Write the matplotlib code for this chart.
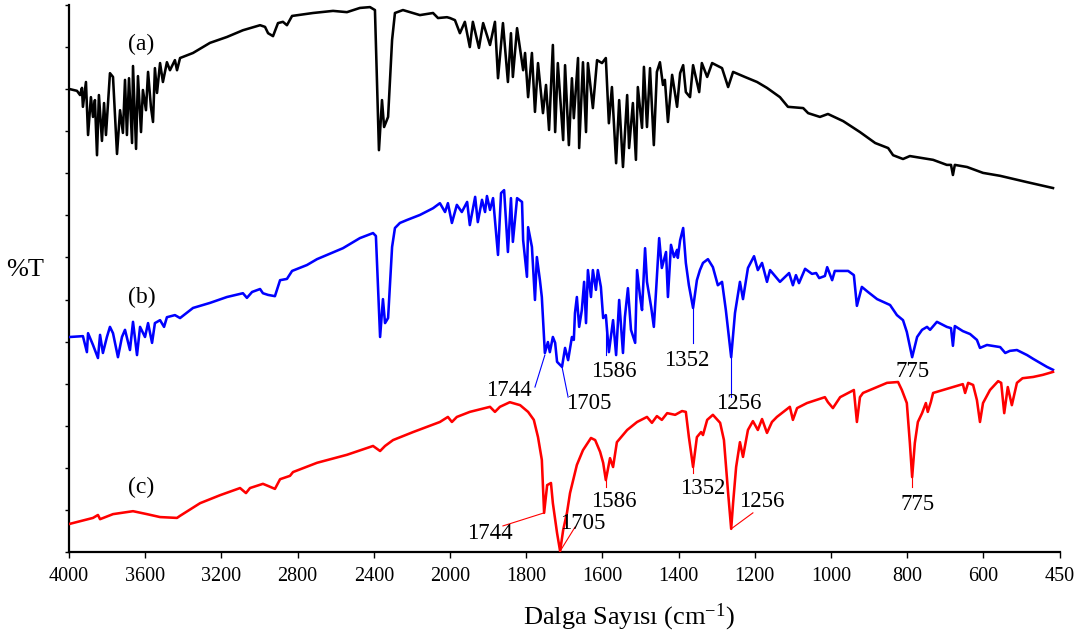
import numpy as np
import matplotlib
matplotlib.use("Agg")
import matplotlib.pyplot as plt
from matplotlib.ticker import FixedLocator, FixedFormatter, NullLocator

plt.rcParams['font.family'] = ['Liberation Serif', 'DejaVu Serif']
plt.rcParams['mathtext.fontset'] = 'custom'
plt.rcParams['mathtext.rm'] = 'Liberation Serif'
plt.rcParams['mathtext.it'] = 'Liberation Serif:italic'
plt.rcParams['mathtext.default'] = 'rm'

# ---------------- data ----------------
x_ticks = [4000, 3600, 3200, 2800, 2400, 2000, 1800, 1600, 1400, 1200, 1000, 800, 600, 450]
x_tick_labels = [str(v) for v in x_ticks]
y_ticks = list(range(0, 14))

# (a) black spectrum: (wavenumber, %T offset units)
spec_a = [
    (3995, 11.00), (3958, 10.96), (3942, 10.86), (3932, 11.03), (3927, 10.58), (3911, 11.17),
    (3900, 9.91), (3885, 10.81), (3874, 10.34), (3864, 10.74), (3853, 9.43), (3843, 10.86),
    (3827, 9.77), (3816, 10.67), (3806, 9.91), (3785, 11.38), (3769, 11.29), (3759, 10.43),
    (3748, 9.46), (3732, 10.50), (3717, 9.96), (3706, 11.22), (3696, 9.91), (3685, 11.26),
    (3669, 9.72), (3664, 11.55), (3648, 9.58), (3638, 11.31), (3622, 9.98), (3612, 10.98),
    (3596, 10.50), (3585, 11.41), (3570, 10.58), (3559, 10.22), (3549, 11.50), (3538, 10.91),
    (3522, 11.62), (3507, 11.17), (3486, 11.64), (3470, 11.45), (3444, 11.69), (3433, 11.45),
    (3417, 11.74), (3349, 11.86), (3260, 12.10), (3171, 12.24), (3087, 12.40), (2997, 12.52),
    (2971, 12.48), (2955, 12.33), (2929, 12.26), (2903, 12.57), (2877, 12.60), (2856, 12.52),
    (2829, 12.74), (2719, 12.81), (2614, 12.86), (2541, 12.83), (2473, 12.93), (2420, 12.95),
    (2394, 12.88), (2373, 9.55), (2357, 10.74), (2346, 10.10), (2325, 10.34), (2304, 12.17),
    (2289, 12.81), (2247, 12.88), (2158, 12.76), (2089, 12.81), (2063, 12.69), (2016, 12.71),
    (2000, 12.69), (1987, 12.64), (1974, 12.33), (1961, 12.60), (1948, 12.00), (1940, 12.60),
    (1924, 11.98), (1913, 12.57), (1895, 12.05), (1882, 12.60), (1874, 11.26), (1861, 12.57),
    (1848, 11.17), (1840, 12.33), (1835, 11.29), (1824, 12.45), (1808, 11.45), (1803, 11.86),
    (1795, 10.81), (1785, 11.86), (1777, 10.46), (1769, 11.62), (1756, 10.43), (1748, 11.10),
    (1740, 10.03), (1730, 12.05), (1724, 9.98), (1717, 11.62), (1703, 9.79), (1698, 11.57),
    (1688, 9.67), (1680, 11.26), (1675, 10.31), (1664, 11.74), (1661, 9.60), (1651, 11.64),
    (1643, 9.98), (1638, 11.62), (1625, 10.55), (1614, 11.69), (1601, 11.62), (1591, 11.74),
    (1583, 10.19), (1575, 11.05), (1564, 9.24), (1556, 10.74), (1546, 9.15), (1535, 10.86),
    (1530, 9.60), (1520, 10.67), (1512, 9.32), (1507, 11.05), (1496, 10.08), (1491, 11.53),
    (1483, 10.10), (1475, 11.50), (1465, 9.67), (1457, 11.41), (1449, 11.64), (1441, 11.10),
    (1436, 11.22), (1428, 10.22), (1417, 11.34), (1404, 10.58), (1396, 11.38), (1388, 11.57),
    (1381, 10.93), (1370, 10.81), (1362, 11.57), (1346, 10.93), (1339, 11.62), (1325, 11.29),
    (1312, 11.62), (1286, 11.50), (1270, 11.05), (1257, 11.41), (1226, 11.29), (1194, 11.17),
    (1168, 11.03), (1134, 10.81), (1113, 10.58), (1073, 10.55), (1060, 10.43), (1029, 10.34),
    (1008, 10.41), (968, 10.24), (924, 9.98), (884, 9.72), (850, 9.60), (837, 9.43),
    (811, 9.34), (793, 9.41), (732, 9.32), (696, 9.20), (685, 9.20), (680, 8.96),
    (675, 9.20), (643, 9.15), (601, 9.01), (567, 8.94), (514, 8.79), (463, 8.65),
]

# (b) blue spectrum
spec_b = [
    (3995, 5.11), (3927, 5.13), (3906, 4.75), (3900, 5.20), (3874, 4.92), (3848, 4.61),
    (3837, 5.16), (3822, 4.73), (3801, 5.11), (3785, 5.35), (3769, 5.20), (3743, 4.63),
    (3722, 5.11), (3706, 5.28), (3680, 4.80), (3664, 5.47), (3643, 4.68), (3627, 5.35),
    (3601, 5.11), (3585, 5.44), (3564, 4.97), (3549, 5.44), (3522, 5.51), (3501, 5.35),
    (3486, 5.58), (3444, 5.63), (3417, 5.56), (3349, 5.80), (3260, 5.92), (3171, 6.06),
    (3087, 6.15), (3066, 6.04), (3039, 6.18), (2997, 6.25), (2982, 6.15), (2955, 6.11),
    (2919, 6.08), (2892, 6.46), (2856, 6.49), (2829, 6.68), (2751, 6.82), (2698, 6.96),
    (2562, 7.22), (2473, 7.46), (2404, 7.58), (2389, 7.51), (2367, 5.11), (2352, 6.01),
    (2341, 5.44), (2325, 5.56), (2304, 7.25), (2289, 7.70), (2263, 7.82), (2226, 7.89),
    (2158, 8.01), (2089, 8.17), (2053, 8.29), (2026, 8.08), (2011, 8.29), (1995, 7.82),
    (1982, 8.25), (1969, 8.08), (1955, 8.32), (1948, 7.77), (1934, 8.44), (1927, 7.84),
    (1916, 8.37), (1908, 8.08), (1903, 8.46), (1895, 8.13), (1887, 8.41), (1874, 7.06),
    (1866, 8.53), (1858, 8.60), (1848, 7.13), (1840, 8.41), (1835, 7.37), (1824, 8.41),
    (1811, 8.32), (1808, 7.41), (1798, 6.54), (1795, 7.72), (1785, 7.25), (1777, 5.99),
    (1772, 7.01), (1764, 6.46), (1759, 6.06), (1751, 4.73), (1743, 4.99), (1738, 4.75),
    (1730, 5.11), (1724, 4.97), (1719, 4.52), (1706, 4.40), (1698, 4.85), (1690, 4.56),
    (1680, 5.11), (1675, 5.04), (1672, 5.68), (1667, 6.06), (1661, 5.35), (1654, 5.75),
    (1648, 6.42), (1643, 5.44), (1638, 6.70), (1630, 6.06), (1625, 6.70), (1617, 6.23),
    (1612, 6.70), (1604, 6.30), (1598, 5.56), (1591, 5.63), (1583, 4.75), (1572, 5.51),
    (1564, 4.68), (1556, 5.99), (1546, 4.73), (1541, 5.58), (1533, 6.27), (1525, 5.28),
    (1514, 4.97), (1509, 6.70), (1501, 6.06), (1496, 5.75), (1488, 7.22), (1483, 6.42),
    (1472, 5.82), (1465, 5.35), (1459, 6.23), (1451, 7.46), (1444, 6.75), (1433, 7.13),
    (1428, 6.06), (1420, 7.30), (1412, 7.01), (1404, 7.18), (1402, 6.99), (1396, 7.41),
    (1388, 7.70), (1381, 6.87), (1373, 6.34), (1362, 5.80), (1352, 6.46), (1344, 6.70),
    (1336, 6.87), (1323, 6.96), (1310, 6.77), (1297, 6.34), (1286, 6.42), (1276, 5.75),
    (1262, 4.63), (1252, 5.68), (1239, 6.42), (1231, 6.01), (1218, 6.75), (1202, 7.03),
    (1192, 6.70), (1181, 6.87), (1168, 6.42), (1160, 6.70), (1134, 6.42), (1110, 6.63),
    (1100, 6.34), (1092, 6.58), (1084, 6.39), (1068, 6.73), (1050, 6.61), (1039, 6.63),
    (1031, 6.51), (1016, 6.56), (1010, 6.77), (997, 6.46), (990, 6.68), (955, 6.68),
    (940, 6.58), (932, 5.85), (919, 6.30), (903, 6.18), (879, 6.01), (845, 5.87),
    (827, 5.63), (811, 5.51), (801, 5.23), (787, 4.63), (774, 5.11), (761, 5.28),
    (748, 5.35), (740, 5.28), (722, 5.47), (696, 5.35), (685, 5.32), (680, 4.90),
    (675, 5.37), (654, 5.25), (635, 5.18), (617, 5.04), (609, 4.85), (593, 4.92),
    (567, 4.87), (557, 4.73), (548, 4.78), (534, 4.80), (514, 4.68), (502, 4.59),
    (475, 4.40), (463, 4.33),
]

# (c) red spectrum
spec_c = [
    (3995, 0.67), (3874, 0.81), (3848, 0.88), (3837, 0.78), (3769, 0.90), (3664, 0.97),
    (3591, 0.90), (3522, 0.83), (3433, 0.81), (3417, 0.86), (3312, 1.16), (3207, 1.35),
    (3102, 1.52), (3071, 1.40), (3050, 1.52), (2982, 1.62), (2955, 1.57), (2919, 1.50),
    (2892, 1.73), (2840, 1.81), (2824, 1.90), (2698, 2.12), (2541, 2.31), (2404, 2.52),
    (2367, 2.40), (2341, 2.52), (2299, 2.66), (2194, 2.85), (2053, 3.09), (2011, 3.21),
    (1995, 3.09), (1982, 3.21), (1948, 3.33), (1895, 3.45), (1882, 3.33), (1869, 3.45),
    (1843, 3.56), (1816, 3.49), (1795, 3.33), (1780, 3.14), (1769, 2.73), (1759, 2.19),
    (1753, 0.93), (1745, 1.59), (1735, 1.64), (1730, 1.16), (1719, 0.45), (1711, 0.02),
    (1703, 0.52), (1693, 0.93), (1685, 1.40), (1667, 2.07), (1651, 2.42), (1630, 2.71),
    (1619, 2.66), (1606, 2.38), (1598, 2.12), (1591, 1.71), (1580, 2.23), (1572, 2.02),
    (1562, 2.61), (1535, 2.90), (1509, 3.09), (1483, 3.21), (1470, 3.07), (1457, 3.23),
    (1444, 3.14), (1430, 3.30), (1409, 3.26), (1391, 3.35), (1381, 3.33), (1373, 2.73),
    (1362, 2.02), (1352, 2.73), (1341, 2.85), (1336, 2.78), (1325, 3.14), (1310, 3.26),
    (1291, 3.07), (1281, 2.66), (1270, 1.40), (1262, 0.55), (1257, 1.16), (1249, 2.02),
    (1239, 2.61), (1231, 2.26), (1218, 2.90), (1205, 3.11), (1192, 2.90), (1181, 3.16),
    (1168, 2.83), (1155, 3.09), (1142, 3.21), (1108, 3.45), (1100, 3.14), (1089, 3.42),
    (1063, 3.54), (1029, 3.64), (1016, 3.68), (1008, 3.56), (995, 3.42), (976, 3.68),
    (940, 3.85), (932, 3.09), (924, 3.68), (916, 3.78), (879, 3.92), (853, 4.02),
    (824, 4.04), (814, 3.85), (801, 3.54), (793, 2.59), (787, 1.78), (780, 2.59),
    (772, 3.09), (761, 3.30), (751, 3.54), (746, 3.33), (738, 3.56), (732, 3.78),
    (706, 3.85), (680, 3.92), (654, 3.99), (648, 3.78), (640, 4.02), (627, 3.97),
    (617, 3.61), (609, 3.09), (601, 3.54), (587, 3.85), (571, 4.06), (565, 4.02),
    (559, 3.30), (552, 3.92), (544, 3.49), (534, 4.02), (523, 4.13), (502, 4.16),
    (483, 4.21), (463, 4.28),
]

# peak labels: text, text position, leader line (from, to)
peaks_b = [
    ("1744", (1845, 3.83), (1751, 4.68), (1777, 3.92)),
    ("1705", (1635, 3.52), (1706, 4.40), (1690, 3.68)),
    ("1586", (1570, 4.28), (1591, 5.58), (1591, 4.68)),
    ("1352", (1378, 4.56), (1362, 5.80), (1362, 4.97)),
    ("1256", (1241, 3.54), (1262, 4.63), (1262, 3.68)),
    ("775", (785, 4.28), None, None),
]
peaks_c = [
    ("1744", (1895, 0.43), (1753, 0.93), (1861, 0.62)),
    ("1705", (1651, 0.67), (1711, 0.02), (1672, 0.59)),
    ("1586", (1570, 1.19), (1591, 1.71), (1591, 1.54)),
    ("1352", (1336, 1.50), (1362, 2.02), (1362, 1.88)),
    ("1256", (1181, 1.19), (1262, 0.55), (1205, 0.93)),
    ("775", (774, 1.14), (787, 1.78), (787, 1.54)),
]
series_labels = ["(a)", "(b)", "(c)"]
series_label_pos = [(3622, 12.07), (3617, 6.04), (3622, 1.54)]

# ---------------- scale (compressed above 2000 cm-1) ----------------
brk_wn = [450, 600, 2000, 4000]
brk_u = [0, 1, 8, 13]


def fwd(x):
    return np.interp(np.asarray(x, dtype=float), brk_wn, brk_u)


def inv(u):
    return np.interp(np.asarray(u, dtype=float), brk_u, brk_wn)


fig = plt.figure(figsize=(10.8, 6.33), dpi=100)
ax = fig.add_axes([69 / 1080, 81 / 633, 990.6 / 1080, 547 / 633])
ax.set_xscale('function', functions=(fwd, inv))

colors = ['#000000', '#0000ff', '#ff0000']
for spec, col in zip([spec_a, spec_b, spec_c], colors):
    wn, tv = zip(*spec)
    ax.plot(wn, tv, color=col, lw=1.85, solid_joinstyle='round', zorder=3)

for peaks, col in [(peaks_b, '#0000ff'), (peaks_c, '#ff0000')]:
    for label, tpos, p0, p1 in peaks:
        ax.text(tpos[0], tpos[1], label, fontsize=16.5, ha='center', va='center', color='black')
        if p0 is not None:
            ax.plot([p0[0], p1[0]], [p0[1], p1[1]], color=col, lw=0.8, zorder=2)

for lab, pos in zip(series_labels, series_label_pos):
    ax.text(pos[0], pos[1], lab, fontsize=17, ha='center', va='center')

ax.set_xlim(4000, 450)
ax.set_ylim(0, 13)

ax.xaxis.set_major_locator(FixedLocator(x_ticks))
ax.xaxis.set_major_formatter(FixedFormatter(x_tick_labels))
ax.xaxis.set_minor_locator(NullLocator())
ax.yaxis.set_major_locator(FixedLocator(y_ticks))
ax.yaxis.set_minor_locator(NullLocator())
ax.tick_params(axis='x', direction='out', length=4.5, width=1.0, labelsize=14.5, pad=6)
ax.tick_params(axis='y', direction='out', length=3, width=1.0, labelleft=False)

for s in ['top', 'right']:
    ax.spines[s].set_visible(False)
for s in ['left', 'bottom']:
    ax.spines[s].set_linewidth(1.6)

ax.set_xlabel(r'Dalga Sayısı (cm$^{-1}$)', fontsize=19)
ax.xaxis.set_label_coords(0.565, -0.09)
ax.set_ylabel('%T', fontsize=19, rotation=0, ha='center', va='center')
ax.yaxis.set_label_coords(-0.044, 0.515)

fig.savefig('out.png', dpi=100)
